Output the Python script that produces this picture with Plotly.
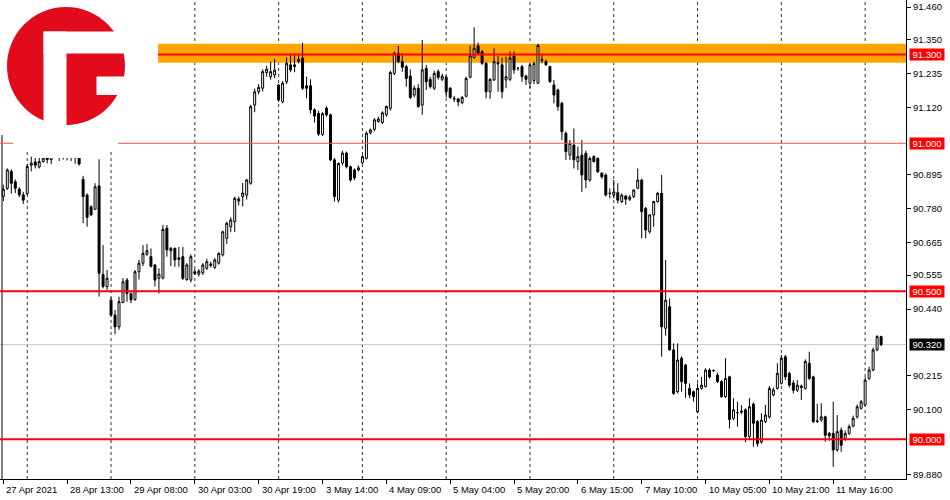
import plotly.graph_objects as go

# ---- data (hourly bars) ----
opens = [90.820,90.848,90.905,90.870,90.845,90.826,90.830,90.926,90.937,90.920,
         90.938,90.950,90.945,90.960,90.975,90.965,90.970,90.960,90.955,90.952,
         90.878,90.825,90.786,90.777,90.856,90.557,90.516,90.470,90.420,90.380,
         90.462,90.538,90.493,90.472,90.566,90.595,90.625,90.617,90.589,90.544,
         90.545,90.713,90.637,90.645,90.613,90.617,90.540,90.538,90.566,90.558,
         90.563,90.578,90.592,90.581,90.595,90.623,90.679,90.718,90.735,90.805,
         90.820,90.825,90.865,91.129,91.174,91.186,91.239,91.225,91.231,91.197,
         91.140,91.208,91.265,91.259,91.276,91.288,91.194,91.194,91.113,91.101,
         91.030,91.119,91.096,90.944,90.808,90.933,90.967,90.921,90.910,90.910,
         90.934,90.949,91.035,91.047,91.073,91.070,91.096,91.118,91.236,91.304,
         91.276,91.259,91.227,91.163,91.186,91.129,91.253,91.216,91.186,91.242,
         91.216,91.223,91.186,91.152,91.150,91.137,91.159,91.223,91.290,91.329,
         91.309,91.270,91.174,91.214,91.268,91.265,91.214,91.216,91.295,91.253,
         91.259,91.227,91.203,91.212,91.203,91.280,91.276,91.259,91.197,91.180,
         91.135,91.034,90.960,90.994,90.938,90.960,90.966,90.876,90.955,90.949,
         90.899,90.893,90.831,90.825,90.833,90.803,90.822,90.811,90.820,90.848,
         90.876,90.780,90.701,90.758,90.803,90.831,90.375,90.448,90.302,90.161,
         90.274,90.251,90.172,90.161,90.093,90.172,90.178,90.234,90.232,90.217,
         90.195,90.144,90.211,90.071,90.090,90.095,90.100,90.009,90.119,90.060,
         89.991,90.060,90.076,90.150,90.172,90.189,90.279,90.223,90.190,90.166,
         90.180,90.172,90.257,90.211,90.060,90.065,90.076,90.020,90.020,89.964,
         90.031,90.003,90.020,90.045,90.076,90.105,90.116,90.206,90.234,90.302,
         90.347]
highs = [90.860,90.915,90.912,90.878,90.852,90.836,90.930,90.955,90.965,90.955,
         90.970,90.975,90.980,90.990,90.985,90.985,90.990,90.975,90.960,90.958,
         90.890,90.831,90.790,90.865,90.946,90.656,90.572,90.480,90.437,90.482,
         90.545,90.545,90.495,90.572,90.606,90.656,90.660,90.645,90.592,90.578,
         90.724,90.724,90.650,90.648,90.650,90.650,90.595,90.625,90.575,90.575,
         90.595,90.610,90.600,90.612,90.632,90.705,90.735,90.750,90.820,90.820,
         90.866,90.880,91.130,91.185,91.200,91.250,91.262,91.276,91.285,91.200,
         91.210,91.290,91.300,91.298,91.300,91.340,91.225,91.216,91.118,91.110,
         91.105,91.125,91.100,90.950,90.935,90.975,90.972,90.925,90.915,90.925,
         90.960,91.040,91.050,91.085,91.090,91.108,91.128,91.245,91.310,91.329,
         91.304,91.265,91.250,91.195,91.200,91.349,91.265,91.225,91.245,91.250,
         91.235,91.230,91.190,91.160,91.152,91.160,91.225,91.330,91.392,91.340,
         91.315,91.275,91.220,91.321,91.295,91.290,91.293,91.310,91.310,91.258,
         91.265,91.232,91.270,91.276,91.336,91.298,91.282,91.262,91.214,91.185,
         91.140,91.040,91.011,91.050,90.989,91.011,90.975,90.955,90.960,90.952,
         90.902,90.898,90.848,90.876,90.865,90.830,90.826,90.825,90.845,90.915,
         90.880,90.785,90.760,90.806,90.836,90.893,90.606,90.476,90.324,90.324,
         90.280,90.255,90.189,90.165,90.189,90.211,90.240,90.240,90.236,90.225,
         90.200,90.274,90.215,90.139,90.127,90.115,90.105,90.139,90.125,90.065,
         90.088,90.116,90.180,90.175,90.257,90.285,90.285,90.228,90.200,90.200,
         90.185,90.270,90.296,90.215,90.120,90.122,90.080,90.025,90.127,90.082,
         90.040,90.030,90.050,90.080,90.118,90.133,90.210,90.245,90.310,90.352,
         90.350]
lows = [90.805,90.842,90.830,90.832,90.818,90.795,90.825,90.905,90.915,90.915,
        90.935,90.932,90.930,90.955,90.940,90.945,90.942,90.940,90.931,90.925,
        90.730,90.718,90.755,90.775,90.482,90.510,90.504,90.415,90.355,90.370,
        90.460,90.465,90.460,90.468,90.540,90.585,90.620,90.580,90.516,90.493,
        90.540,90.617,90.585,90.583,90.583,90.538,90.535,90.530,90.555,90.550,
        90.555,90.572,90.580,90.575,90.590,90.618,90.660,90.700,90.700,90.790,
        90.786,90.810,90.860,91.105,91.165,91.175,91.225,91.215,91.220,91.140,
        91.135,91.200,91.240,91.240,91.270,91.180,91.152,91.100,91.070,91.025,
        91.025,91.090,90.940,90.803,90.800,90.925,90.915,90.870,90.875,90.905,
        90.930,90.945,91.030,91.040,91.070,91.065,91.090,91.110,91.230,91.270,
        91.242,91.191,91.150,91.155,91.120,91.096,91.180,91.185,91.180,91.215,
        91.210,91.155,91.150,91.140,91.125,91.132,91.155,91.220,91.285,91.300,
        91.265,91.152,91.150,91.210,91.174,91.152,91.186,91.210,91.235,91.245,
        91.208,91.197,91.186,91.200,91.200,91.270,91.262,91.205,91.135,91.110,
        91.011,90.944,90.944,90.915,90.910,90.836,90.848,90.870,90.935,90.900,
        90.880,90.820,90.814,90.814,90.797,90.798,90.792,90.805,90.815,90.845,
        90.679,90.679,90.695,90.718,90.800,90.279,90.350,90.300,90.150,90.155,
        90.161,90.140,90.139,90.127,90.088,90.168,90.175,90.205,90.228,90.190,
        90.140,90.140,90.037,90.065,90.043,90.085,89.990,89.998,89.975,89.975,
        89.985,90.055,90.070,90.145,90.168,90.185,90.200,90.175,90.155,90.160,
        90.133,90.168,90.200,90.055,90.055,90.060,89.992,89.995,89.907,89.958,
        89.958,89.995,90.015,90.040,90.070,90.100,90.112,90.200,90.230,90.298,
        90.315]
closes = [90.845,90.910,90.865,90.848,90.826,90.808,90.922,90.933,90.926,90.938,
          90.950,90.945,90.960,90.975,90.965,90.970,90.960,90.955,90.952,90.930,
          90.820,90.750,90.758,90.853,90.561,90.516,90.544,90.420,90.380,90.465,
          90.532,90.493,90.471,90.566,90.595,90.628,90.637,90.585,90.538,90.558,
          90.709,90.640,90.645,90.606,90.608,90.544,90.589,90.617,90.560,90.568,
          90.589,90.600,90.588,90.606,90.628,90.701,90.730,90.741,90.814,90.812,
          90.832,90.876,91.124,91.174,91.189,91.242,91.250,91.242,91.247,91.146,
          91.203,91.270,91.248,91.265,91.284,91.186,91.186,91.113,91.092,91.031,
          91.100,91.096,90.944,90.820,90.932,90.967,90.921,90.876,90.883,90.917,
          90.955,91.034,91.045,91.079,91.082,91.103,91.124,91.239,91.304,91.276,
          91.257,91.219,91.155,91.186,91.124,91.248,91.208,91.191,91.236,91.223,
          91.227,91.174,91.155,91.150,91.140,91.155,91.219,91.295,91.321,91.304,
          91.270,91.174,91.216,91.276,91.272,91.174,91.225,91.288,91.248,91.253,
          91.225,91.216,91.265,91.270,91.330,91.282,91.265,91.208,91.163,91.124,
          91.039,90.972,91.000,90.944,90.955,90.893,90.876,90.949,90.938,90.904,
          90.887,90.825,90.831,90.836,90.808,90.825,90.811,90.818,90.842,90.876,
          90.769,90.707,90.758,90.803,90.831,90.380,90.470,90.302,90.155,90.268,
          90.195,90.189,90.150,90.144,90.172,90.183,90.234,90.211,90.232,90.195,
          90.144,90.206,90.067,90.100,90.090,90.092,90.009,90.110,90.054,89.986,
          90.065,90.082,90.172,90.167,90.223,90.274,90.211,90.183,90.166,90.183,
          90.175,90.263,90.206,90.060,90.062,90.076,90.014,90.012,89.964,90.026,
          89.980,90.020,90.043,90.071,90.110,90.127,90.200,90.234,90.302,90.347,
          90.320]

bars = list(range(len(closes)))

# time labels (bar index, text)
label_bars = [0, 16, 32, 48, 64, 80, 96, 112, 128, 144, 160, 176, 192, 208]
label_text = ["27 Apr 2021", "28 Apr 13:00", "29 Apr 08:00", "30 Apr 03:00",
              "30 Apr 19:00", "3 May 14:00", "4 May 09:00", "5 May 04:00",
              "5 May 20:00", "6 May 15:00", "7 May 10:00", "10 May 05:00",
              "10 May 21:00", "11 May 16:00"]
grid_bars = [6, 27, 48, 69, 90, 111, 132, 153, 174, 195, 216]

# price scale ticks (those hidden behind the level labels are omitted)
y_ticks = [91.460, 91.350, 91.235, 91.120, 90.895, 90.780, 90.665,
           90.555, 90.440, 90.215, 90.100, 89.880]

# levels
zone_low, zone_high = 91.272, 91.336
level_main = 91.300
level_thin = 91.000
levels_thick = [90.500, 90.000]
last_price = 90.320
zone_start_bar = 38.8

W, H = 950, 500
ML, MR, MT, MB = 0, 44, 0, 21
PW, PH = W - ML - MR, H - MT - MB
x_min, x_max = -0.83, 226.24
y_min, y_max = 89.866, 91.484
FONT = "Liberation Sans, Arial, sans-serif"

def px(xp):
    return xp / PW

def py(yp):
    return 1 - yp / PH

fig = go.Figure()
fig.add_trace(go.Candlestick(
    x=bars, open=opens, high=highs, low=lows, close=closes,
    increasing=dict(line=dict(color="black", width=1), fillcolor="white"),
    decreasing=dict(line=dict(color="black", width=1), fillcolor="black"),
    whiskerwidth=0, hoverinfo="skip", showlegend=False,
))

shapes = []
for g in grid_bars:
    shapes.append(dict(type="line", xref="x", yref="paper", x0=g, x1=g, y0=0, y1=1,
                       line=dict(color="#333333", width=1, dash="3px,3px"), layer="below"))
shapes.append(dict(type="rect", xref="x", yref="y", x0=zone_start_bar, x1=x_max,
                   y0=zone_low, y1=zone_high, fillcolor="#FFA500",
                   line=dict(width=0), layer="below"))
shapes.append(dict(type="line", xref="paper", yref="y", x0=0, x1=1, y0=last_price,
                   y1=last_price, line=dict(color="#C8C8C8", width=1), layer="below"))
# left border line
shapes.append(dict(type="line", xref="paper", yref="paper", x0=px(2), x1=px(2),
                   y0=0, y1=py(135), line=dict(color="black", width=1), layer="above"))
shapes.append(dict(type="line", xref="x", yref="y", x0=zone_start_bar, x1=x_max,
                   y0=level_main, y1=level_main, line=dict(color="#FF0000", width=2),
                   layer="above"))
shapes.append(dict(type="line", xref="paper", yref="y", x0=0, x1=1, y0=level_thin,
                   y1=level_thin, line=dict(color="#FF5050", width=1), layer="above"))
for lv in levels_thick:
    shapes.append(dict(type="line", xref="paper", yref="y", x0=0, x1=1, y0=lv, y1=lv,
                       line=dict(color="#FF0000", width=2), layer="above"))

# logo (white backing, red disc, white F)
RED = "#E20B1C"
for (a, b, c, d) in [(13, 118, 0, 150), (34, 95, 0, 158)]:
    shapes.append(dict(type="rect", xref="paper", yref="paper", x0=px(a), x1=px(b),
                       y0=py(d), y1=py(c), fillcolor="white", line=dict(width=0),
                       layer="above"))
shapes.append(dict(type="circle", xref="paper", yref="paper", x0=px(7), x1=px(125),
                   y0=py(125), y1=py(7), fillcolor=RED, line=dict(width=0), layer="above"))
for (a, b, c, d) in [(43.5, 66.5, 31.5, 127), (43.5, 127, 31.5, 53.5), (96.5, 127, 76.5, 95)]:
    shapes.append(dict(type="rect", xref="paper", yref="paper", x0=px(a), x1=px(b),
                       y0=py(d), y1=py(c), fillcolor="white", line=dict(width=0), layer="above"))

annotations = []
for b, t in zip(label_bars, label_text):
    annotations.append(dict(x=b, xref="x", y=0, yref="paper", text=t, showarrow=False,
                            xanchor="left", yanchor="top", xshift=1, yshift=-3,
                            font=dict(family=FONT, size=9.5, color="#000000")))
for lv, col in [(level_main, "#FF0000"), (level_thin, "#FF0000"), (90.500, "#FF0000"),
                (90.000, "#FF0000"), (last_price, "#000000")]:
    annotations.append(dict(x=px(909), xref="paper", y=lv, yref="y", text=f"{lv:.3f}",
                            showarrow=False, xanchor="left", yanchor="middle",
                            bgcolor=col, width=34, height=11, borderpad=0,
                            font=dict(family=FONT, size=9.5, color="white")))

fig.update_layout(
    width=W, height=H, margin=dict(l=ML, r=MR, t=MT, b=MB),
    paper_bgcolor="white", plot_bgcolor="white", hovermode=False,
    shapes=shapes, annotations=annotations, showlegend=False,
    xaxis=dict(range=[x_min, x_max], rangeslider=dict(visible=False), showgrid=False,
               zeroline=False, showline=True, linecolor="black", linewidth=1,
               ticks="outside", ticklen=4, tickcolor="black",
               tickvals=label_bars, ticktext=[""] * len(label_bars)),
    yaxis=dict(range=[y_min, y_max], side="right", showgrid=False, zeroline=False,
               showline=True, linecolor="black", linewidth=1, ticks="outside",
               ticklen=4, tickcolor="black", tickvals=y_ticks,
               ticktext=[f"{v:.3f}" for v in y_ticks],
               tickfont=dict(family=FONT, size=9.5, color="#000000")),
)
fig.write_html("out.html", config={"displayModeBar": False, "staticPlot": True},
               post_script="document.body.style.margin='0px';document.body.style.overflow='hidden';")
